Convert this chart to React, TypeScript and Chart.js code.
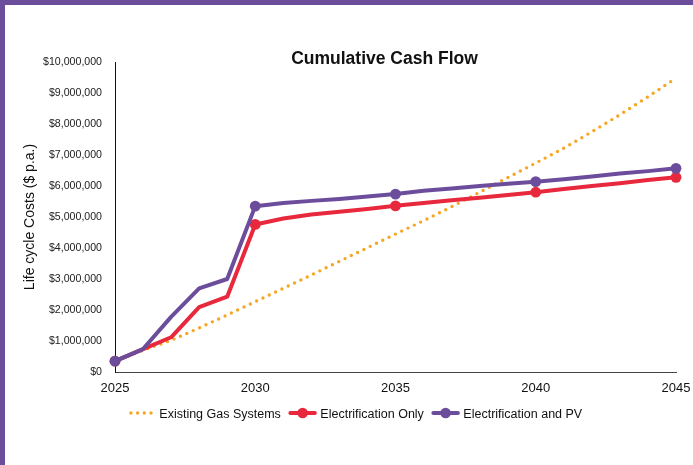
import React, { useEffect, useRef } from "react";
import { Chart, registerables } from "chart.js";

Chart.register(...registerables);

// ---------- data ----------
const years = [
  2025, 2026, 2027, 2028, 2029, 2030, 2031, 2032, 2033, 2034, 2035,
  2036, 2037, 2038, 2039, 2040, 2041, 2042, 2043, 2044, 2045,
];
const existingGasSystems = [
  350000, 700000, 1020000, 1420000, 1840000, 2270000, 2700000, 3130000, 3570000, 4010000, 4450000,
  4880000, 5330000, 5800000, 6270000, 6740000, 7220000, 7750000, 8300000, 8880000, 9480000,
];
const electrificationOnly = [
  350000, 740000, 1120000, 2090000, 2430000, 4760000, 4950000, 5080000, 5170000, 5260000, 5360000,
  5450000, 5540000, 5620000, 5710000, 5800000, 5900000, 6000000, 6090000, 6190000, 6280000,
];
const electrificationAndPV = [
  350000, 740000, 1780000, 2700000, 3000000, 5350000, 5450000, 5520000, 5580000, 5660000, 5740000,
  5850000, 5920000, 6000000, 6070000, 6140000, 6220000, 6310000, 6400000, 6480000, 6570000,
];
const seriesLabels = ["Existing Gas Systems", "Electrification Only", "Electrification and PV"];
const xTickValues = [2025, 2030, 2035, 2040, 2045];
const chartTitle = "Cumulative Cash Flow";
const yAxisTitle = "Life cycle Costs ($ p.a.)";

// ---------- styles ----------
const FONT = '"Liberation Sans", Arial, Helvetica, sans-serif';
const GOLD = "#F5A623";
const RED = "#E8283C";
const PURPLE = "#6C4D9C";

const overlayPlugin = {
  id: "overlay",
  afterDraw(chart: any) {
    const ctx = chart.ctx as CanvasRenderingContext2D;
    ctx.save();
    // title
    ctx.font = `bold 17.5px ${FONT}`;
    ctx.fillStyle = "#111";
    ctx.textAlign = "center";
    ctx.textBaseline = "alphabetic";
    ctx.fillText(chartTitle, 379.5, 59);

    // legend
    const cy = 408;
    const baseline = 412.7;
    let x = 124.3;
    ctx.font = `12.5px ${FONT}`;
    ctx.textAlign = "left";
    chart.data.datasets.forEach((ds: any) => {
      const color = ds.borderColor;
      let textX: number;
      if (ds.borderDash && ds.borderDash.length) {
        ctx.fillStyle = color;
        for (let k = 0; k < 4; k++) {
          ctx.beginPath();
          ctx.arc(x + 1.6 + k * 6.7, cy, 1.7, 0, Math.PI * 2);
          ctx.fill();
        }
        textX = x + 30;
      } else {
        ctx.strokeStyle = color;
        ctx.lineWidth = 4;
        ctx.lineCap = "round";
        ctx.beginPath();
        ctx.moveTo(x + 1.5, cy);
        ctx.lineTo(x + 26, cy);
        ctx.stroke();
        ctx.fillStyle = color;
        ctx.beginPath();
        ctx.arc(x + 13.75, cy, 5.3, 0, Math.PI * 2);
        ctx.fill();
        textX = x + 31.5;
      }
      ctx.fillStyle = "#111";
      ctx.fillText(ds.label, textX, baseline);
      x = textX + ctx.measureText(ds.label).width + 8;
    });
    ctx.restore();
  },
};

const markerRadius = (c: any) => (years[c.dataIndex] % 5 === 0 ? 5.4 : 0);

export default function App() {
  const canvasRef = useRef<HTMLCanvasElement | null>(null);

  useEffect(() => {
    if (!canvasRef.current) return;
    const chart = new Chart(canvasRef.current, {
      type: "line",
      data: {
        labels: years,
        datasets: [
          {
            label: seriesLabels[0],
            data: years.map((y, i) => ({ x: y, y: existingGasSystems[i] })),
            borderColor: GOLD,
            backgroundColor: GOLD,
            borderWidth: 3.4,
            borderDash: [0, 7],
            borderCapStyle: "round",
            pointRadius: 0,
            pointHoverRadius: 0,
            tension: 0,
            clip: false,
            order: 2,
          },
          {
            label: seriesLabels[1],
            data: years.map((y, i) => ({ x: y, y: electrificationOnly[i] })),
            borderColor: RED,
            backgroundColor: RED,
            borderWidth: 4,
            borderJoinStyle: "round",
            borderCapStyle: "round",
            pointRadius: markerRadius,
            pointBorderWidth: 0,
            pointBackgroundColor: RED,
            tension: 0,
            clip: false,
            order: 1,
          },
          {
            label: seriesLabels[2],
            data: years.map((y, i) => ({ x: y, y: electrificationAndPV[i] })),
            borderColor: PURPLE,
            backgroundColor: PURPLE,
            borderWidth: 4,
            borderJoinStyle: "round",
            borderCapStyle: "round",
            pointRadius: markerRadius,
            pointBorderWidth: 0,
            pointBackgroundColor: PURPLE,
            tension: 0,
            clip: false,
            order: 0,
          },
        ],
      },
      options: {
        responsive: false,
        devicePixelRatio: 1,
        animation: false,
        layout: { padding: { left: 0, top: 57, right: 17, bottom: 63 } },
        plugins: {
          legend: { display: false },
          title: { display: false },
          tooltip: { enabled: false },
        },
        scales: {
          x: {
            type: "linear",
            min: 2025,
            max: 2045,
            grid: { display: false, drawTicks: false },
            border: { display: true, color: "#444", width: 1 },
            ticks: {
              stepSize: 5,
              padding: 9,
              color: "#111",
              font: { family: FONT, size: 13 },
              callback: (v: any) => String(v),
            },
            afterBuildTicks: (s: any) => {
              s.ticks = xTickValues.map((v) => ({ value: v }));
            },
            afterFit: (s: any) => {
              s.height = 30;
              s.paddingRight = 0;
            },
          },
          y: {
            min: 0,
            max: 10000000,
            grid: { display: false, drawTicks: false },
            border: { display: true, color: "#111", width: 1 },
            ticks: {
              stepSize: 1000000,
              padding: 13,
              color: "#222",
              font: { family: FONT, size: 10.6 },
              callback: (v: any) => "$" + Number(v).toLocaleString("en-US"),
            },
            title: {
              display: true,
              text: yAxisTitle,
              color: "#111",
              font: { family: FONT, size: 14 },
              padding: { top: 16.6, bottom: 0 },
            },
            afterFit: (s: any) => {
              s.width = 110;
            },
          },
        },
      },
      plugins: [overlayPlugin],
    } as any);
    return () => chart.destroy();
  }, []);

  return (
    <div
      style={{
        position: "fixed",
        left: 0,
        top: 0,
        width: 693,
        height: 465,
        boxSizing: "border-box",
        borderTop: `5px solid ${PURPLE}`,
        borderLeft: `5px solid ${PURPLE}`,
        background: "#fff",
      }}
    >
      <canvas ref={canvasRef} width={688} height={460} style={{ width: 688, height: 460, display: "block" }} />
    </div>
  );
}
